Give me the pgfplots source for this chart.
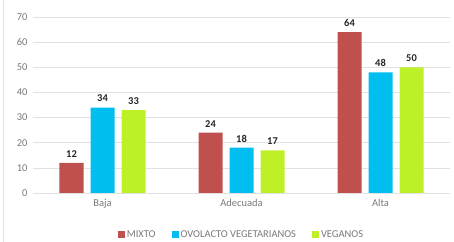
\documentclass[border=0pt]{standalone}
\usepackage{pgfplots}
\pgfplotsset{compat=1.18}
\usepackage{fontspec}
\setmainfont{Carlito}
\definecolor{cmix}{RGB}{192,80,77}
\definecolor{cova}{RGB}{0,190,240}
\definecolor{cveg}{RGB}{190,240,40}
\definecolor{tgray}{RGB}{120,120,120}
\definecolor{ggray}{RGB}{225,225,225}
\begin{document}
\begin{tikzpicture}
\useasboundingbox (-33bp,-49bp) rectangle (421bp,193bp);
\draw[ggray,line width=0.8bp] (-30bp,-49bp) -- (-30bp,193bp);
\begin{axis}[
  scale only axis,
  width=417bp, height=176bp,
  at={(0,0)}, anchor=south west,
  ymin=0, ymax=70, ytick={0,10,...,70},
  xmin=-0.5, xmax=2.5,
  xtick=data, xticklabels={Baja,Adecuada,Alta},
  axis line style={draw=none},
  major tick length=0pt,
  ymajorgrids, grid style={ggray,line width=0.6bp},
  ybar=7bp, bar width=24bp,
  /pgf/number format/assume math mode=true,
  tick label style={font=\fontsize{10.5}{12}\selectfont, text=tgray},
  yticklabel style={xshift=-2bp},
  xticklabel style={yshift=-3bp},
  nodes near coords,
  every node near coord/.append style={font=\bfseries\fontsize{10.5}{12}\selectfont, text=black!85, yshift=2bp},
  legend style={at={(0.5,-49bp-1bp)}, anchor=south, draw=none, fill=none,
     legend columns=3, font=\fontsize{10.5}{12}\selectfont, text=tgray,
     /tikz/every even column/.append style={column sep=14bp}},
  legend image code/.code={\fill[#1] (2bp,-3.5bp) rectangle (9bp,3.5bp);},
  every axis plot/.append style={draw=none},
]
\addplot[fill=cmix] coordinates {(0,12) (1,24) (2,64)};
\addplot[fill=cova] coordinates {(0,34) (1,18) (2,48)};
\addplot[fill=cveg] coordinates {(0,33) (1,17) (2,50)};
\legend{MIXTO,OVOLACTO VEGETARIANOS,VEGANOS}
\end{axis}
\end{tikzpicture}
\end{document}
